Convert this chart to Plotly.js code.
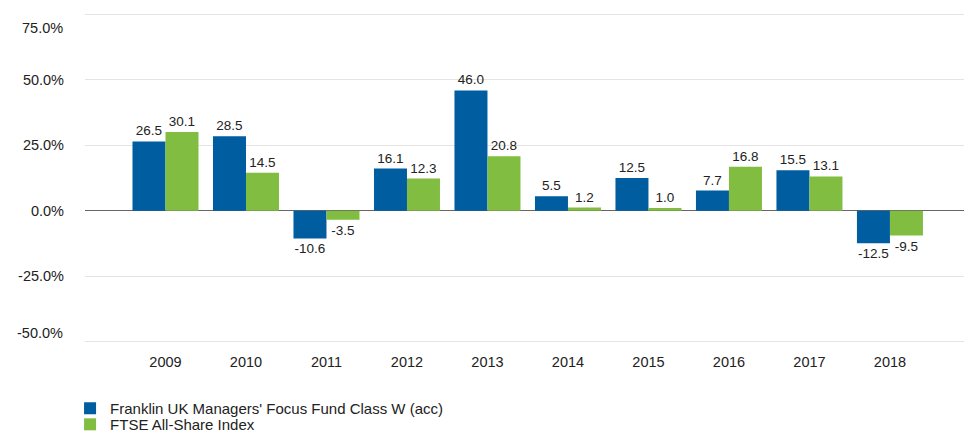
<!DOCTYPE html>
<html>
<head>
<meta charset="utf-8">
<script src="https://cdn.plot.ly/plotly-3.0.1.min.js"></script>
<style>html,body{margin:0;padding:0;background:#fff;}#chart{width:964px;height:437px;}</style>
</head>
<body>
<div id="chart"></div>
<script>
const years = ['2009','2010','2011','2012','2013','2014','2015','2016','2017','2018'];
const fundName = "Franklin UK Managers' Focus Fund Class W (acc)";
const indexName = 'FTSE All-Share Index';
const fundValues = [26.5, 28.5, -10.6, 16.1, 46.0, 5.5, 12.5, 7.7, 15.5, -12.5];
const indexValues = [30.1, 14.5, -3.5, 12.3, 20.8, 1.2, 1.0, 16.8, 13.1, -9.5];
const yTickVals = [-50, -25, 0, 25, 50, 75];
const yTickLabels = yTickVals.map(v => v.toFixed(1) + '%');

const FONT = '"Liberation Sans", Arial, sans-serif';
const yMin = yTickVals[0], yMax = yTickVals[yTickVals.length - 1];

// The reference keeps the end labels inside the plot: draw those two as annotations
const yTickText = yTickVals.map((v, i) => (v === yMin || v === yMax) ? '' : yTickLabels[i]);
const endAnnotations = yTickVals.map((v, i) => ({v, t: yTickLabels[i]}))
  .filter(o => o.v === yMin || o.v === yMax)
  .map(o => ({xref:'paper', yref:'y', x:0, y:o.v, xanchor:'right', yanchor:'middle',
              xshift:-20, yshift: o.v === yMax ? -13 : 8, showarrow:false, text:o.t,
              font:{size:14.5, family:FONT, color:'#222'}}));

const traces = [
  {type:'bar', name: fundName, x: years, y: fundValues, legend:'legend',
   marker:{color:'#005DA0'}, text: fundValues.map(v => v.toFixed(1)), textposition:'outside',
   textfont:{size:13.5, color:'#222', family:FONT}, cliponaxis:false, hoverinfo:'none'},
  {type:'bar', name: indexName, x: years, y: indexValues, legend:'legend2',
   marker:{color:'#80BD41'}, text: indexValues.map(v => v.toFixed(1)), textposition:'outside',
   textfont:{size:13.5, color:'#222', family:FONT}, cliponaxis:false, hoverinfo:'none'}
];

const layout = {
  width:964, height:437,
  margin:{l:85, r:0, t:12, b:93, autoexpand:false},
  paper_bgcolor:'#fff', plot_bgcolor:'#fff',
  font:{family:FONT, size:14.5, color:'#222'},
  barmode:'group', bargap:0.18, bargroupgap:0,
  showlegend:true,
  legend:{x:-0.017, xanchor:'left', y:-0.1446, yanchor:'top', orientation:'v',
          font:{size:15, family:FONT, color:'#222'}, itemwidth:30, bgcolor:'rgba(0,0,0,0)'},
  legend2:{x:-0.017, xanchor:'left', y:-0.193, yanchor:'top', orientation:'v',
          font:{size:15, family:FONT, color:'#222'}, itemwidth:30, bgcolor:'rgba(0,0,0,0)'},
  annotations: endAnnotations,
  xaxis:{type:'category', range:[-1, 9.92], showgrid:false, zeroline:false,
         showline:false, ticks:'', ticklabelstandoff:7,
         tickfont:{size:14.5, family:FONT, color:'#222'}},
  yaxis:{range:[-51, 76], tickmode:'array', tickvals:yTickVals, ticktext:yTickText,
         showgrid:true, gridcolor:'#e4e4e4', gridwidth:1,
         zeroline:true, zerolinecolor:'#666', zerolinewidth:1.5,
         showline:false, ticks:'', ticklabelstandoff:20,
         tickfont:{size:14.5, family:FONT, color:'#222'}}
};

Plotly.newPlot('chart', traces, layout, {displayModeBar:false, staticPlot:true});
</script>
</body>
</html>
